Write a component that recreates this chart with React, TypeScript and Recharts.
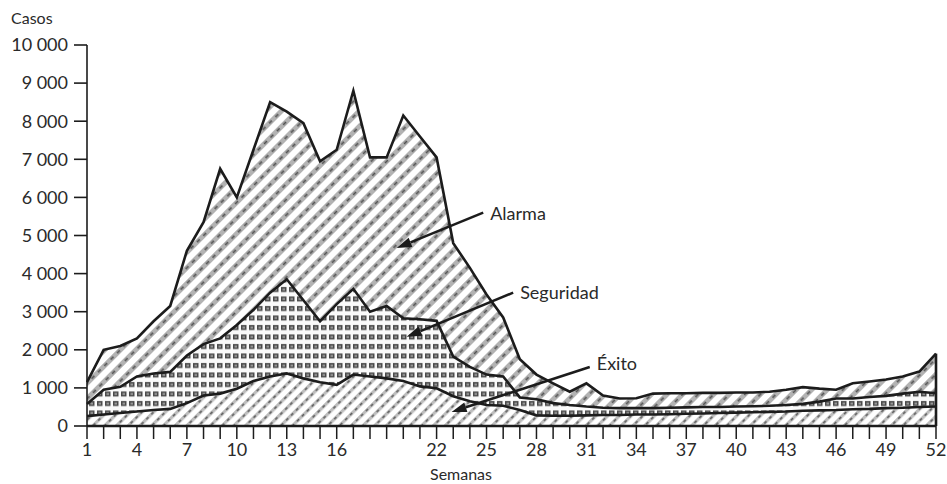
import React from 'react';
import { AreaChart, Area, XAxis, YAxis, ReferenceLine } from 'recharts';

// weeks 1..52
const weeks = [
  1, 2, 3, 4, 5, 6, 7, 8, 9, 10, 11, 12, 13, 14, 15, 16, 17, 18, 19, 20, 21, 22, 23, 24, 25, 26,
  27, 28, 29, 30, 31, 32, 33, 34, 35, 36, 37, 38, 39, 40, 41, 42, 43, 44, 45, 46, 47, 48, 49, 50, 51, 52,
];

// only these weeks get a printed label (19 is missing in the original)
const xTickLabels = [1, 4, 7, 10, 13, 16, 22, 25, 28, 31, 34, 37, 40, 43, 46, 49, 52];
const yTicks = [0, 1000, 2000, 3000, 4000, 5000, 6000, 7000, 8000, 9000, 10000];

const alarma = [
  1150, 2000, 2100, 2300, 2750, 3150, 4600, 5350, 6750, 6000, 7250, 8500, 8250, 7950, 6950, 7250,
  8800, 7050, 7050, 8150, 7600, 7050, 4800, 4150, 3450, 2850, 1750, 1350, 1120, 900, 1120, 800,
  720, 730, 850, 860, 860, 870, 870, 880, 880, 900, 950, 1020, 980, 950, 1120, 1170, 1220, 1300,
  1430, 1900,
];

const seguridad = [
  580, 950, 1030, 1300, 1380, 1420, 1850, 2150, 2300, 2650, 3050, 3500, 3850, 3300, 2750, 3200,
  3600, 3000, 3150, 2830, 2800, 2760, 1820, 1550, 1350, 1300, 750, 700, 600, 550, 510, 480,
  470, 470, 470, 480, 490, 500, 500, 510, 520, 530, 550, 580, 640, 720, 720, 760, 790, 850,
  900, 860,
];

const exito = [
  260, 300, 340, 380, 420, 450, 600, 800, 850, 980, 1180, 1300, 1380, 1250, 1150, 1080,
  1350, 1300, 1250, 1180, 1040, 990, 780, 650, 550, 530, 420, 280, 270, 270, 280, 290,
  290, 300, 300, 310, 320, 330, 340, 350, 360, 370, 380, 400, 410, 420, 440, 450, 470, 480,
  500, 510,
];

// arrow annotations: text, tail (week, cases), head (week, cases)
const annotations = [
  { text: 'Alarma', from: [24.8, 5600], to: [19.6, 4670], dy: 1 },
  { text: 'Seguridad', from: [26.6, 3500], to: [20.2, 2340], dy: 0 },
  { text: 'Éxito', from: [31.2, 1550], to: [22.9, 370], dy: -3 },
];

const data = weeks.map((w, i) => ({
  week: w,
  alarma: alarma[i],
  seguridad: seguridad[i],
  exito: exito[i],
}));

const FONT = 'Lato, "Open Sans", sans-serif';
const INK = '#1c1c1c';

const formatCases = (v: number) => (v >= 1000 ? `${Math.floor(v / 1000)} ${String(v % 1000).padStart(3, '0')}` : `${v}`);

// line + filled arrowhead + text next to the tail
const Arrow = (props: any) => {
  const { x1, y1, x2, y2, text, dy } = props;
  const ang = Math.atan2(y2 - y1, x2 - x1);
  const len = 15;
  const half = 5;
  const bx = x2 - len * Math.cos(ang);
  const by = y2 - len * Math.sin(ang);
  const px = -Math.sin(ang) * half;
  const py = Math.cos(ang) * half;
  return (
    <g>
      <line x1={x1} y1={y1} x2={bx} y2={by} stroke={INK} strokeWidth={2.6} />
      <polygon points={`${x2},${y2} ${bx + px},${by + py} ${bx - px},${by - py}`} fill={INK} />
      <text x={x1 + 7} y={y1 + dy + 6} fontFamily={FONT} fontSize={18} fill="#2a2a2a">
        {text}
      </text>
    </g>
  );
};

export default function App() {
  return (
    <div style={{ position: 'absolute', left: 0, top: 0, background: '#fff' }}>
      <AreaChart width={947} height={484} data={data} margin={{ top: 45, right: 11, bottom: 0, left: 0 }}>
        <defs>
          <pattern id="hatchAlarma" patternUnits="userSpaceOnUse" width="11" height="9" patternTransform="rotate(45)">
            <rect width="11" height="9" fill="#fff" />
            <rect x="0" y="0" width="5" height="9" fill="#b3b3b3" />
            <rect x="1.6" y="1" width="1.8" height="4" fill="#555" />
          </pattern>
          <pattern id="brickSeguridad" patternUnits="userSpaceOnUse" width="8" height="9.5">
            <rect width="8" height="9.5" fill="#fafafa" />
            <rect x="1" y="2" width="5.5" height="5" fill="#4a4a4a" />
            <rect x="2.5" y="3.5" width="2.5" height="2" fill="#9a9a9a" />
          </pattern>
          <pattern id="hatchExito" patternUnits="userSpaceOnUse" width="8.3" height="7" patternTransform="rotate(45)">
            <rect width="8.3" height="7" fill="#fff" />
            <rect x="0" y="0" width="3.2" height="7" fill="#bdbdbd" />
            <rect x="0.8" y="1" width="1.6" height="3" fill="#606060" />
          </pattern>
        </defs>
        <XAxis
          dataKey="week"
          type="number"
          domain={[1, 52]}
          ticks={weeks}
          interval={0}
          height={58}
          tickSize={13}
          tickMargin={4}
          tickFormatter={(v: number) => (xTickLabels.includes(v) ? String(v) : '')}
          tick={{ fontSize: 18, fill: '#2a2a2a', fontFamily: FONT }}
          axisLine={{ stroke: INK, strokeWidth: 2.5 }}
          tickLine={{ stroke: INK, strokeWidth: 1.5 }}
          label={{
            content: ({ viewBox }: any) => (
              <text x={viewBox.x + 374} y={viewBox.y + 54} textAnchor="middle" fontFamily={FONT} fontSize={16} fill="#2a2a2a">
                Semanas
              </text>
            ),
          }}
        />
        <YAxis
          type="number"
          domain={[0, 10000]}
          ticks={yTicks}
          interval={0}
          width={87}
          tickSize={13}
          tickMargin={6}
          tickFormatter={formatCases}
          tick={{ fontSize: 18, fill: '#2a2a2a', fontFamily: FONT }}
          axisLine={{ stroke: INK, strokeWidth: 1.6 }}
          tickLine={{ stroke: INK, strokeWidth: 1.6 }}
          label={{
            content: ({ viewBox }: any) => (
              <text x={viewBox.x + 11} y={viewBox.y - 21} fontFamily={FONT} fontSize={16} fill="#2a2a2a">
                Casos
              </text>
            ),
          }}
        />
        <Area
          type="linear"
          dataKey="alarma"
          stroke={INK}
          strokeWidth={2.6}
          fill="url(#hatchAlarma)"
          fillOpacity={1}
          dot={false}
          activeDot={false}
          isAnimationActive={false}
        />
        <Area
          type="linear"
          dataKey="seguridad"
          stroke={INK}
          strokeWidth={2.6}
          fill="url(#brickSeguridad)"
          fillOpacity={1}
          dot={false}
          activeDot={false}
          isAnimationActive={false}
        />
        <Area
          type="linear"
          dataKey="exito"
          stroke={INK}
          strokeWidth={2.6}
          fill="url(#hatchExito)"
          fillOpacity={1}
          dot={false}
          activeDot={false}
          isAnimationActive={false}
        />
        {/* closing edge on the right of the Alarma area */}
        <ReferenceLine
          segment={[
            { x: weeks[weeks.length - 1], y: 0 },
            { x: weeks[weeks.length - 1], y: alarma[alarma.length - 1] },
          ]}
          stroke={INK}
          strokeWidth={2.6}
        />
        {annotations.map((a) => (
          <ReferenceLine
            key={a.text}
            segment={[
              { x: a.from[0], y: a.from[1] },
              { x: a.to[0], y: a.to[1] },
            ]}
            shape={(p: any) => <Arrow {...p} text={a.text} dy={a.dy} />}
          />
        ))}
      </AreaChart>
    </div>
  );
}
